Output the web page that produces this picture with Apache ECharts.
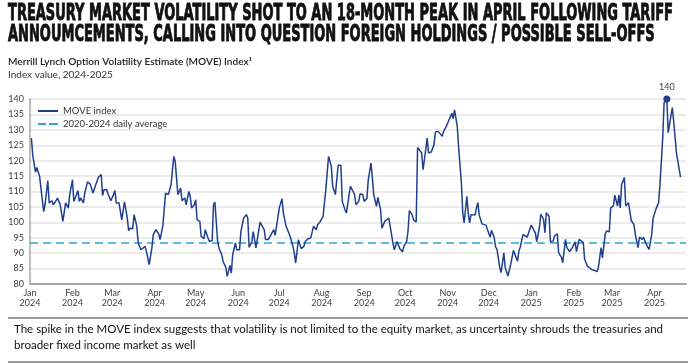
<!DOCTYPE html>
<html><head><meta charset="utf-8">
<script src="https://cdn.jsdelivr.net/npm/echarts@6/dist/echarts.min.js"></script>
<style>html,body{margin:0;padding:0;background:#fff;}#c{width:696px;height:364px;}</style>
</head><body><div id="c"></div>
<script>
// ---------- text ----------
const titleLines = [
  "TREASURY MARKET VOLATILITY SHOT TO AN 18-MONTH PEAK IN APRIL FOLLOWING TARIFF",
  "ANNOUMCEMENTS, CALLING INTO QUESTION FOREIGN HOLDINGS / POSSIBLE SELL-OFFS"
];
const subtitleLine = "Merrill Lynch Option Volatility Estimate (MOVE) Index\u00B9";
const unitLine = "Index value, 2024-2025";
const noteLines = [
  "The spike in the MOVE index suggests that volatility is not limited to the equity market, as uncertainty shrouds the treasuries and",
  "broader fixed income market as well"
];
const seriesNames = ["MOVE index", "2020-2024 daily average"];

// ---------- axes ----------
const monthStartDays = [0,31,60,91,121,152,182,213,244,274,305,335,366,397,425,456];
const monthLabels = ["Jan\n2024","Feb\n2024","Mar\n2024","Apr\n2024","May\n2024","Jun\n2024","Jul\n2024","Aug\n2024",
  "Sep\n2024","Oct\n2024","Nov\n2024","Dec\n2024","Jan\n2025","Feb\n2025","Mar\n2025","Apr\n2025"];
const xMaxDay = 479;
const yMin = 80, yMax = 140, yStep = 5;

// ---------- data (days since 1 Jan 2024, index value) ----------
const dayOffsets = [
  1,2,4,5,7,8,10,11,13,14,16,17,19,20,22,23,24,26,28,29,31,32,34,35,36,37,39,40,42,44,45,46,48,50,52,53,54,56,57,58,59,
  61,62,63,65,67,69,71,72,73,75,76,78,79,81,82,84,85,87,88,89,90,92,94,95,97,98,99,101,103,105,106,107,108,110,111,113,
  114,116,117,118,120,121,122,124,125,127,128,130,131,133,134,135,137,138,140,141,143,144,146,147,148,150,151,153,154,
  156,158,159,160,
  162,163,165,166,168,169,171,172,174,176,178,179,180,182,184,185,187,188,190,192,193,194,196,197,198,200,201,203,205,
  206,207,209,210,212,213,214,216,218,220,221,223,225,227,228,230,231,233,234,235,237,238,240,241,243,244,246,247,249,
  250,251,253,254,256,257,259,260,262,263,265,266,268,269,270,272,273,275,276,277,279,280,282,283,284,286,287,288,290,
  291,293,295,296,298,299,301,302,304,305,306,308,309,310,312,313,315,316,317,319,320,321,322,
  323,325,326,327,328,330,331,333,334,336,337,339,340,341,343,344,346,347,349,350,351,353,354,356,357,358,360,361,363,
  364,366,367,369,370,372,373,375,376,377,379,380,382,383,385,386,388,389,391,392,394,395,396,398,399,401,402,404,405,
  407,408,410,411,412,414,415,417,418,420,421,423,424,426,427,429,430,431,432,434,435,437,438,439,441,442,444,445,447,
  448,449,451,452,454,455,457,459,460,462,463,465,466,467,469,470,472,473,475
];
const moveValues = [
  127.3,121.9,116.3,117.8,114.9,111.1,103.5,105.7,113.5,106.3,107,105.7,107,107.9,105.9,106.3,100.3,106.3,104.6,109,113.8,
  106.8,109,110.3,106.8,107.9,106.3,109.5,113.1,112.4,112,109.5,112.2,114.6,115.5,108.7,110.6,110.6,109.2,109.2,107,
  109,110.3,106.3,106.3,100.8,106.6,101.6,97.3,98.1,97.9,102.5,98.7,93.3,91.1,91.7,92.2,90.6,86.3,86.3,91.7,96,97.6,96.2,
  94.4,98.9,99,109.5,109,112.2,121.4,119.8,114.4,109,111.1,107,107.9,105.7,110,108.4,104.6,105.7,107.3,100.8,100.3,95.4,
  94.7,97.6,94.9,93.8,94.1,105.7,106.6,93.8,91.7,89.5,87.3,85.4,82.5,86,83.5,89.5,93.3,91.1,91.1,97,101.4,102.5,101.4,91.9,
  93.8,97,91.7,91.7,100.1,99.2,97.6,94.4,94.4,96,97.6,95.8,98.7,104.6,107.7,103,98.7,98.1,95.4,92.2,90,86.8,94.4,93.8,
  91.5,92.2,93.8,94.7,94.9,95.4,98.7,97.6,99.2,100.3,99.8,101.9,110.6,121.4,118.2,111.7,109,118.5,118.5,106.8,104.1,103,
  109,111.7,111.1,109,105.7,106.8,109.2,109,106.8,107.7,113.8,119.2,114.4,109,105.2,108.1,104.1,98.1,100.3,100.8,101.4,
  98.7,93.3,91.1,93.8,93.3,91.5,90.4,92.2,93.8,97,103.8,102.5,100.8,100.1,124.3,124.1,122.5,117.1,120.3,127.3,122.5,
  122.8,125.2,129.3,129.5,129.2,127.9,129.5,131.1,132.2,131.9,135.4,133.6,136.5,131.1,124.1,112.7,103,99.8,108.4,103,
  99.8,102.5,
  102.6,102.4,104.7,106.4,102.4,99.5,99.9,99.1,97.7,95.2,97.4,95,92,91.2,85.3,83.7,90.1,85.3,82.6,82.6,86.4,90.9,90.5,
  87.4,90.7,92,96.1,96.6,95.2,94.8,99.1,98.8,96.6,93.7,98.5,102.6,101,96.6,103.1,102,93.7,93.9,95.6,96.3,90.1,88.7,86.9,
  94.5,91.8,90.5,90.5,91.8,93.7,90.5,94.5,94.2,93.4,88,85.8,86.4,84.7,84.7,84.4,84,85.3,91.8,88.5,96.1,97.2,96.9,104.7,
  105.3,108.8,105.3,108.8,104.7,112.3,114.5,105.3,106.4,105.8,100.6,99.3,96.1,91.8,95.2,94.5,95.2,93.9,92,91.2,96.1,
  101.3,104.2,106.4,112.3,127.4,138.8,140,129.1,128.7,137.2,132.8,122.6,119.9,114.7
];
const averageValue = 93.3;

// ---------- build ----------
const navy = '#1f3f8e';
const cyan = '#2aa5de';
const bodyFont = 'Lato, "Open Sans", sans-serif';
const titleFont = 'bold 23px "Liberation Sans Narrow", "DejaVu Sans Condensed", "Liberation Sans", sans-serif';

const mctx = document.createElement('canvas').getContext('2d');
function widthOf(text, font) { mctx.font = font; return mctx.measureText(text).width; }

const titleScale = 665 / widthOf(titleLines[0], titleFont);
const subFont = '600 10px ' + bodyFont;
const subScale = 244 / widthOf(subtitleLine, subFont);
const unitFont = '400 10px ' + bodyFont;
const noteFont = '400 11px ' + bodyFont;
const noteScale = 649 / widthOf(noteLines[0], noteFont);

const moveData = dayOffsets.map((d, i) => [d, moveValues[i]]);
const avgData = [[0, averageValue], [xMaxDay, averageValue]];

const graphics = [];
titleLines.forEach((t, i) => graphics.push({
  type: 'text', x: 8, y: 14.5 + i * 21, scaleX: titleScale, silent: true,
  style: { text: t, font: titleFont, fill: '#111', stroke: '#111', lineWidth: 0.9, verticalAlign: 'middle' }
}));
graphics.push({ type: 'text', x: 8, y: 62, scaleX: subScale, silent: true,
  style: { text: subtitleLine, font: subFont, fill: '#222', verticalAlign: 'middle' } });
graphics.push({ type: 'text', x: 8, y: 75, silent: true,
  style: { text: unitLine, font: unitFont, fill: '#333', verticalAlign: 'middle' } });
graphics.push({ type: 'line', silent: true, shape: { x1: 8, y1: 318, x2: 688, y2: 318 }, style: { stroke: '#9a9a9a', lineWidth: 2 } });
graphics.push({ type: 'line', silent: true, shape: { x1: 8, y1: 362, x2: 688, y2: 362 }, style: { stroke: '#9a9a9a', lineWidth: 2 } });
noteLines.forEach((t, i) => graphics.push({
  type: 'text', x: 14, y: 329 + i * 16, scaleX: noteScale, silent: true,
  style: { text: t, font: noteFont, fill: '#111', verticalAlign: 'middle' }
}));

const chart = echarts.init(document.getElementById('c'), null, { renderer: 'canvas' });
chart.setOption({
  animation: false,
  backgroundColor: '#fff',
  graphic: graphics,
  grid: { left: 30, right: 10, top: 99, bottom: 80, containLabel: false },
  legend: {
    orient: 'vertical', left: 33, top: 101, itemWidth: 20, itemHeight: 2, itemGap: 3,
    textStyle: { fontFamily: bodyFont, fontSize: 9.5, color: '#333' },
    data: [
      { name: seriesNames[0], icon: 'path://M0,0H20V2H0Z' },
      { name: seriesNames[1], icon: 'path://M0,0H8V2H0Z M11,0H20V2H11Z' }
    ]
  },
  xAxis: {
    type: 'value', min: 0, max: xMaxDay,
    axisLine: { show: true, lineStyle: { color: '#a6a6a6', width: 2 } },
    axisTick: { show: false },
    splitLine: { show: false },
    axisLabel: {
      customValues: monthStartDays,
      formatter: v => monthLabels[monthStartDays.indexOf(v)] || '',
      fontFamily: bodyFont, fontSize: 9, color: '#404040', lineHeight: 10, margin: 4
    }
  },
  yAxis: {
    type: 'value', min: yMin, max: yMax, interval: yStep,
    axisLine: { show: true, lineStyle: { color: '#a6a6a6', width: 1.5 } },
    axisTick: { show: false },
    splitLine: { show: true, lineStyle: { color: '#e4e4e4', width: 1.5 } },
    axisLabel: { fontFamily: bodyFont, fontSize: 9, color: '#404040', margin: 6 }
  },
  series: [
    {
      name: seriesNames[0], type: 'line', data: moveData, symbol: 'none', z: 3,
      lineStyle: { color: navy, width: 1.5 }, itemStyle: { color: navy },
      markPoint: {
        symbol: 'circle', symbolSize: 7, itemStyle: { color: navy },
        label: { show: true, position: 'top', distance: 4, color: '#404040', fontSize: 9, fontFamily: bodyFont, formatter: p => String(p.value) },
        data: [{ type: 'max' }]
      }
    },
    {
      name: seriesNames[1], type: 'line', data: avgData, symbol: 'none', z: 2,
      lineStyle: { color: cyan, width: 1.5, type: [8, 5] }, itemStyle: { color: cyan }
    }
  ]
});
</script></body></html>
